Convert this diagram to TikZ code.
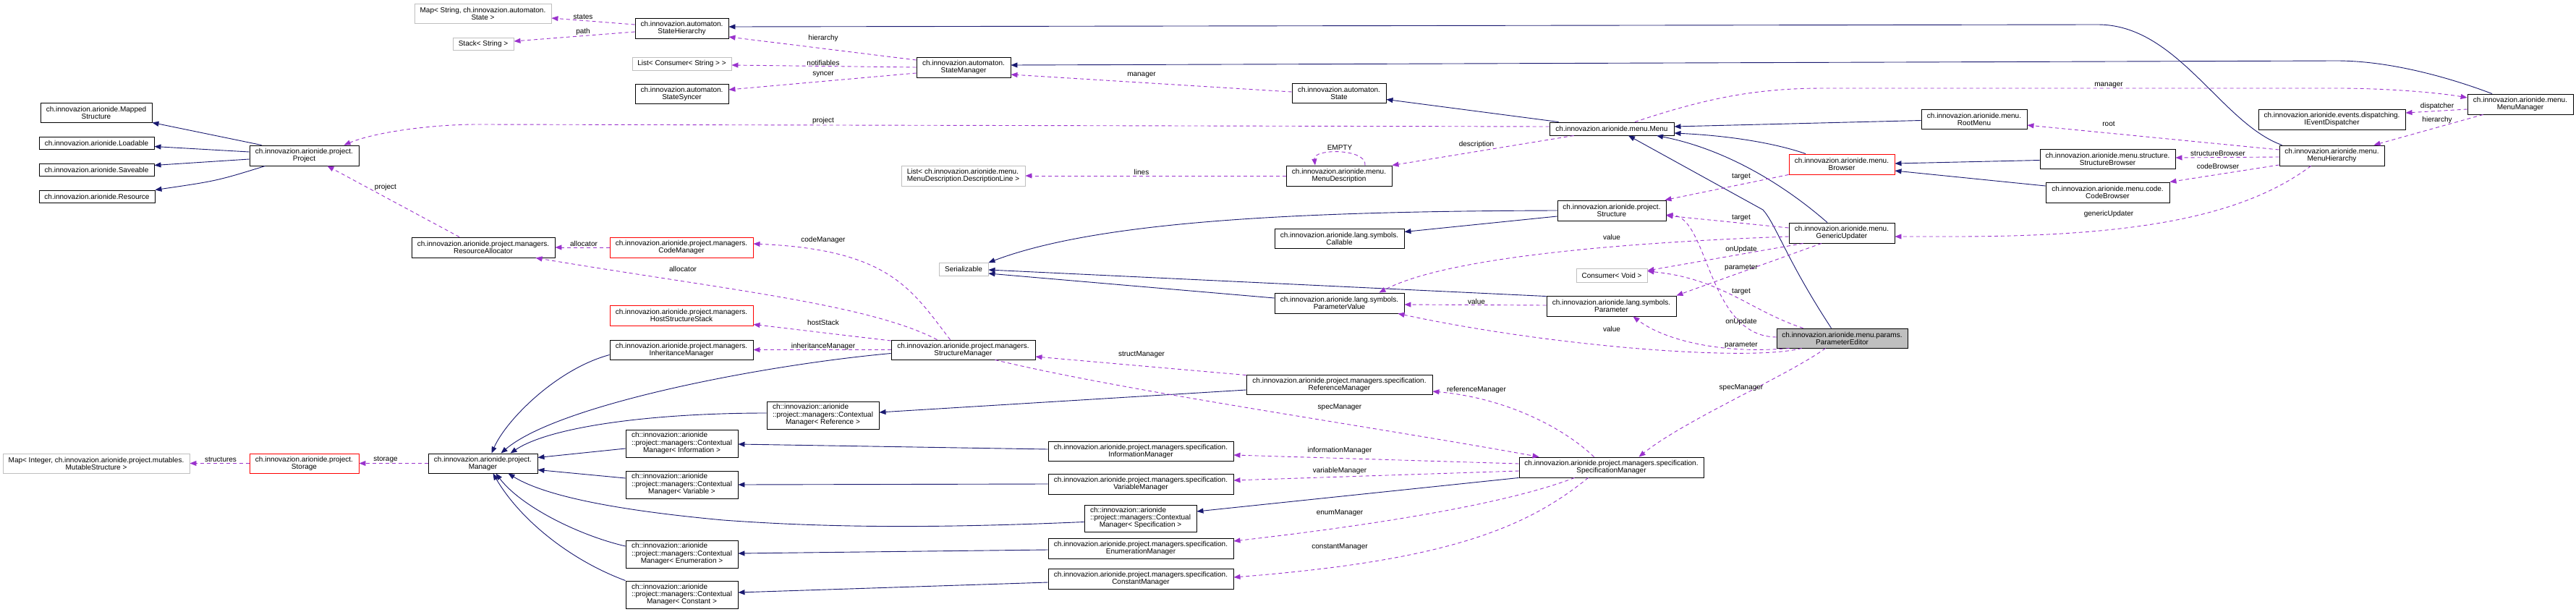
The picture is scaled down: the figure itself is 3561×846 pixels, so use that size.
\documentclass[tikz,border=0pt]{standalone}
\usepackage{fontspec}
\setmainfont{Liberation Sans}
\usetikzlibrary{arrows.meta}
\definecolor{edgeblue}{HTML}{191970}
\definecolor{edgepurple}{HTML}{9A32CD}
\definecolor{graybd}{HTML}{BFBFBF}
\newcommand\dxfont{\fontsize{10}{10}\selectfont}
\newcommand\cmtext[1]{\begin{tabular}{@{}l@{}}ch::innovazion::arionide\\::project::managers::Contextual\\\multicolumn{1}{@{}c@{}}{Manager< #1 >}\end{tabular}}
\begin{document}
\begin{tikzpicture}[x=1pt,y=-1pt,
  cls/.style={draw=black, fill=white, line width=0.9pt, inner sep=0pt, align=center, font=\dxfont},
  extb/.style={draw=graybd},
  redb/.style={draw=red},
  inh/.style={draw=edgeblue, line width=0.9pt, -{Triangle[length=9pt,width=7pt]}},
  dep/.style={draw=edgepurple, line width=0.9pt, dash pattern=on 5pt off 4pt, -{Triangle[length=9pt,width=7pt]}},
  lbl/.style={inner sep=0pt, font=\dxfont}]
\useasboundingbox[fill=white] (0,0) rectangle (3561,846);

% ---------- nodes ----------
\node[cls,extb,minimum width=189pt,minimum height=27pt] (mapstate) at (667.5,18.5) {Map< String, ch.innovazion.automaton.\\State >};
\node[cls,extb,minimum width=84pt,minimum height=17pt] (stack) at (668,60.5) {Stack< String >};
\node[cls,minimum width=129pt,minimum height=28pt] (statehier) at (942.5,39) {ch.innovazion.automaton.\\StateHierarchy};
\node[cls,extb,minimum width=137pt,minimum height=18pt] (listcons) at (942.5,88) {List< Consumer< String > >};
\node[cls,minimum width=129pt,minimum height=27pt] (statesync) at (942.5,129.5) {ch.innovazion.automaton.\\StateSyncer};
\node[cls,minimum width=154pt,minimum height=27pt] (mapped) at (133,155.5) {ch.innovazion.arionide.Mapped\\Structure};
\node[cls,minimum width=159pt,minimum height=17pt] (loadable) at (133.5,197.5) {ch.innovazion.arionide.Loadable};
\node[cls,minimum width=159pt,minimum height=17pt] (saveable) at (133.5,234.5) {ch.innovazion.arionide.Saveable};
\node[cls,minimum width=160pt,minimum height=17pt] (resource) at (134,271.5) {ch.innovazion.arionide.Resource};
\node[cls,minimum width=151pt,minimum height=28pt] (project) at (420.5,215) {ch.innovazion.arionide.project.\\Project};
\node[cls,minimum width=198pt,minimum height=28pt] (resalloc) at (668,342) {ch.innovazion.arionide.project.managers.\\ResourceAllocator};
\node[cls,redb,minimum width=198pt,minimum height=28pt] (codemgr) at (942,342) {ch.innovazion.arionide.project.managers.\\CodeManager};
\node[cls,redb,minimum width=198pt,minimum height=28pt] (hoststack) at (942,436) {ch.innovazion.arionide.project.managers.\\HostStructureStack};
\node[cls,minimum width=198pt,minimum height=27pt] (inhmgr) at (942,483.5) {ch.innovazion.arionide.project.managers.\\InheritanceManager};
\node[cls,extb,minimum width=258pt,minimum height=27pt] (mapint) at (133,640.5) {Map< Integer, ch.innovazion.arionide.project.mutables.\\MutableStructure >};
\node[cls,redb,minimum width=151pt,minimum height=27pt] (storage) at (420.5,640.5) {ch.innovazion.arionide.project.\\Storage};
\node[cls,minimum width=151pt,minimum height=27pt] (manager) at (667.5,640.5) {ch.innovazion.arionide.project.\\Manager};
\node[cls,minimum width=155pt,minimum height=38pt] (cminfo) at (942.5,613) {\cmtext{Information}};
\node[cls,minimum width=155pt,minimum height=38pt] (cmvar) at (942.5,670) {\cmtext{Variable}};
\node[cls,minimum width=155pt,minimum height=38pt] (cmenum) at (942.5,766) {\cmtext{Enumeration}};
\node[cls,minimum width=155pt,minimum height=38pt] (cmconst) at (942.5,822) {\cmtext{Constant}};
\node[cls,minimum width=155pt,minimum height=38pt] (cmref) at (1137.5,574) {\cmtext{Reference}};
\node[cls,minimum width=155pt,minimum height=37pt] (cmspec) at (1576.5,716.5) {\cmtext{Specification}};
\node[cls,minimum width=130pt,minimum height=28pt] (statemgr) at (1332,93) {ch.innovazion.automaton.\\StateManager};
\node[cls,minimum width=130pt,minimum height=27pt] (state) at (1851,128.5) {ch.innovazion.automaton.\\State};
\node[cls,extb,align=left,minimum width=171pt,minimum height=28pt] (mdlist) at (1331.5,243) {List< ch.innovazion.arionide.menu.\\MenuDescription.DescriptionLine >};
\node[cls,minimum width=146pt,minimum height=28pt] (menudesc) at (1851,243) {ch.innovazion.arionide.menu.\\MenuDescription};
\node[cls,minimum width=179pt,minimum height=27pt] (callable) at (1851.5,329.5) {ch.innovazion.arionide.lang.symbols.\\Callable};
\node[cls,extb,minimum width=68pt,minimum height=18pt] (serial) at (1332,372) {Serializable};
\node[cls,minimum width=179pt,minimum height=28pt] (paramvalue) at (1851.5,419) {ch.innovazion.arionide.lang.symbols.\\ParameterValue};
\node[cls,minimum width=179pt,minimum height=28pt] (parameter) at (2227.5,423) {ch.innovazion.arionide.lang.symbols.\\Parameter};
\node[cls,minimum width=150pt,minimum height=28pt] (structure) at (2228,291) {ch.innovazion.arionide.project.\\Structure};
\node[cls,extb,minimum width=98pt,minimum height=19pt] (consvoid) at (2228,380.5) {Consumer< Void >};
\node[cls,minimum width=199pt,minimum height=27pt] (structmgr) at (1331.5,483.5) {ch.innovazion.arionide.project.managers.\\StructureManager};
\node[cls,minimum width=257pt,minimum height=27pt] (refmgr) at (1851.5,531.5) {ch.innovazion.arionide.project.managers.specification.\\ReferenceManager};
\node[cls,minimum width=256pt,minimum height=27pt] (infomgr) at (1577,623.5) {ch.innovazion.arionide.project.managers.specification.\\InformationManager};
\node[cls,minimum width=256pt,minimum height=28pt] (varmgr) at (1577,669) {ch.innovazion.arionide.project.managers.specification.\\VariableManager};
\node[cls,minimum width=256pt,minimum height=28pt] (enummgr) at (1577,758) {ch.innovazion.arionide.project.managers.specification.\\EnumerationManager};
\node[cls,minimum width=256pt,minimum height=28pt] (constmgr) at (1577,800) {ch.innovazion.arionide.project.managers.specification.\\ConstantManager};
\node[cls,minimum width=172pt,minimum height=18pt] (menu) at (2228,178) {ch.innovazion.arionide.menu.Menu};
\node[cls,minimum width=146pt,minimum height=27pt] (rootmenu) at (2729,164.5) {ch.innovazion.arionide.menu.\\RootMenu};
\node[cls,redb,minimum width=146pt,minimum height=28pt] (browser) at (2546,227) {ch.innovazion.arionide.menu.\\Browser};
\node[cls,minimum width=146pt,minimum height=28pt] (genupd) at (2546,322) {ch.innovazion.arionide.menu.\\GenericUpdater};
\node[cls,fill=graybd,minimum width=181pt,minimum height=27pt] (parameditor) at (2546.5,467.5) {ch.innovazion.arionide.menu.params.\\ParameterEditor};
\node[cls,minimum width=255pt,minimum height=28pt] (specmgr) at (2227.5,646) {ch.innovazion.arionide.project.managers.specification.\\SpecificationManager};
\node[cls,minimum width=146pt,minimum height=28pt] (menumgr) at (3484,144) {ch.innovazion.arionide.menu.\\MenuManager};
\node[cls,minimum width=203pt,minimum height=28pt] (ievent) at (3223.5,165) {ch.innovazion.arionide.events.dispatching.\\IEventDispatcher};
\node[cls,minimum width=145pt,minimum height=28pt] (menuhier) at (3223.5,215) {ch.innovazion.arionide.menu.\\MenuHierarchy};
\node[cls,minimum width=187pt,minimum height=27pt] (structbrowser) at (2913.5,219.5) {ch.innovazion.arionide.menu.structure.\\StructureBrowser};
\node[cls,minimum width=171pt,minimum height=28pt] (codebrowser) at (2913.5,266) {ch.innovazion.arionide.menu.code.\\CodeBrowser};

% ---------- inheritance edges ----------
\draw[inh] ([shift={(17,0)}]project.north west) -- (mapped.south east);
\draw[inh] ([shift={(0,-5)}]project.west) -- ([shift={(0,5)}]loadable.east);
\draw[inh] ([shift={(0,5)}]project.west) -- ([shift={(0,-6)}]saveable.east);
\draw[inh] ([shift={(22,0)}]project.south west) .. controls (300,250) .. (resource.north east);
\draw[inh] ([shift={(4,0)}]menuhier.north west) .. controls (3070,170) and (3010,34) .. (2900,34) -- ([shift={(0,-2)}]statehier.east);
\draw[inh] ([shift={(-39,0)}]menumgr.north) .. controls (3380,105) and (3300,84) .. (3230,84) -- ([shift={(0,-3)}]statemgr.east);
\draw[inh] ([shift={(13,0)}]menu.north west) -- ([shift={(0,-5)}]state.south east);
\draw[inh] ([shift={(0,2)}]rootmenu.west) -- ([shift={(0,-3)}]menu.east);
\draw[inh] ([shift={(-50,0)}]browser.north) .. controls (2460,200) and (2400,188) .. ([shift={(0,6)}]menu.east);
\draw[inh] ([shift={(-20,0)}]genupd.north) .. controls (2460,250) and (2380,205) .. ([shift={(62,0)}]menu.south);
\draw[inh] ([shift={(-15,0)}]parameditor.north) .. controls (2470,360) and (2455,310) .. (2437,290) -- ([shift={(23,0)}]menu.south);
\draw[inh] ([shift={(0,2)}]structbrowser.west) -- ([shift={(0,-1)}]browser.east);
\draw[inh] ([shift={(0,-9)}]codebrowser.west) -- ([shift={(0,9)}]browser.east);
\draw[inh] ([shift={(0,8)}]structure.west) -- ([shift={(0,-9)}]callable.east);
\draw[inh] (structure.west) .. controls (1800,292) and (1520,305) .. ([shift={(0,-9)}]serial.east);
\draw[inh] ([shift={(0,1)}]parameter.north west) -- ([shift={(0,1)}]serial.east);
\draw[inh] ([shift={(0,-7)}]paramvalue.west) -- ([shift={(0,6)}]serial.east);
\draw[inh] ([shift={(0,5)}]structmgr.west) .. controls (1050,505) and (770,560) .. ([shift={(25,0)}]manager.north);
\draw[inh] ([shift={(0,7)}]inhmgr.west) .. controls (770,510) and (700,580) .. ([shift={(12,0)}]manager.north);
\draw[inh] ([shift={(0,-3)}]cmref.west) .. controls (900,571) and (760,590) .. ([shift={(38,0)}]manager.north);
\draw[inh] ([shift={(0,7)}]cminfo.west) -- ([shift={(0,-8)}]manager.east);
\draw[inh] ([shift={(0,-9)}]cmvar.west) -- ([shift={(0,9)}]manager.east);
\draw[inh] ([shift={(0,5)}]cmspec.west) .. controls (1300,730) and (1150,730) .. (1000,719) .. controls (880,708) and (760,690) .. ([shift={(35,0)}]manager.south);
\draw[inh] ([shift={(0,-11)}]cmenum.west) .. controls (800,740) and (720,700) .. ([shift={(18,0)}]manager.south);
\draw[inh] (cmconst.north west) .. controls (790,775) and (720,720) .. ([shift={(14,0)}]manager.south);
\draw[inh] ([shift={(0,7.5)}]refmgr.west) -- ([shift={(0,-4)}]cmref.east);
\draw[inh] ([shift={(0,-2.5)}]infomgr.west) -- ([shift={(0,1)}]cminfo.east);
\draw[inh] (varmgr.west) -- (cmvar.east);
\draw[inh] (specmgr.south west) -- ([shift={(0,-9.5)}]cmspec.east);
\draw[inh] ([shift={(0,2)}]enummgr.west) -- ([shift={(0,-1)}]cmenum.east);
\draw[inh] ([shift={(0,5)}]constmgr.west) -- ([shift={(0,-3)}]cmconst.east);

% ---------- usage edges ----------
\draw[dep] ([shift={(0,-5)}]statehier.west) -- ([shift={(0,6.5)}]mapstate.east);
\draw[dep] ([shift={(0,5)}]statehier.west) -- ([shift={(0,-3.5)}]stack.east);
\draw[dep] ([shift={(0,-10)}]statemgr.west) -- ([shift={(0,12)}]statehier.east);
\draw[dep] (statemgr.west) -- ([shift={(0,2)}]listcons.east);
\draw[dep] ([shift={(0,8)}]statemgr.west) -- ([shift={(0,-5.5)}]statesync.east);
\draw[dep] ([shift={(0,-1.5)}]state.west) -- ([shift={(0,10)}]statemgr.east);
\draw[dep] ([shift={(0,-3)}]menu.west) -- (660,172) .. controls (600,172) and (520,182) .. ([shift={(55,0)}]project.north);
\draw[dep] ([shift={(34,0)}]menu.south west) -- (menudesc.north east);
\draw[dep] (menudesc.west) -- (mdlist.east);
\draw[dep] ([shift={(36,0)}]menudesc.north) .. controls (1890,205) and (1815,205) .. ([shift={(-33,0)}]menudesc.north);
\draw[dep] ([shift={(32,0)}]menu.north) .. controls (2360,135) and (2430,122) .. (2520,122) -- (3230,122) .. controls (3300,122) and (3370,128) .. ([shift={(0,-9)}]menumgr.west);
\draw[dep] ([shift={(0,7)}]menumgr.west) -- ([shift={(0,-9)}]ievent.east);
\draw[dep] ([shift={(22,0)}]menumgr.south west) -- ([shift={(58,0)}]menuhier.north);
\draw[dep] ([shift={(0,-8)}]menuhier.west) -- ([shift={(0,8.5)}]rootmenu.east);
\draw[dep] ([shift={(0,2)}]menuhier.west) -- ([shift={(0,-1.5)}]structbrowser.east);
\draw[dep] ([shift={(0,13)}]menuhier.west) -- (codebrowser.north east);
\draw[dep] ([shift={(-29,0)}]menuhier.south) .. controls (3100,300) and (2950,327) .. (2700,327) -- ([shift={(0,5)}]genupd.east);
\draw[dep] (browser.south west) -- ([shift={(-2,0)}]structure.north east);
\draw[dep] ([shift={(0,-7)}]genupd.west) -- ([shift={(0,7)}]structure.east);
\draw[dep] ([shift={(0,5)}]genupd.west) .. controls (2250,335) and (2000,355) .. ([shift={(55,0)}]paramvalue.north);
\draw[dep] ([shift={(20,0)}]genupd.south west) -- ([shift={(0,-6.5)}]consvoid.east);
\draw[dep] ([shift={(-28,0)}]genupd.south) -- (parameter.north east);
\draw[dep] ([shift={(0,-1.5)}]parameditor.west) .. controls (2360,465) and (2362,300) .. ([shift={(0,6)}]structure.east);
\draw[dep] ([shift={(37,0)}]parameditor.north west) .. controls (2420,430) and (2380,385) .. ([shift={(0,-5.5)}]consvoid.east);
\draw[dep] ([shift={(18,0)}]parameditor.south west) .. controls (2380,490) and (2300,470) .. ([shift={(30,0)}]parameter.south);
\draw[dep] ([shift={(35,0)}]parameditor.south west) .. controls (2420,500) and (2150,480) .. ([shift={(-9,0)}]paramvalue.south east);
\draw[dep] ([shift={(0,-1)}]parameter.west) -- ([shift={(0,2)}]paramvalue.east);
\draw[dep] ([shift={(-23,0)}]parameditor.south) .. controls (2470,520) and (2330,580) .. ([shift={(38,0)}]specmgr.north);
\draw[dep] ([shift={(44,0)}]structmgr.south) .. controls (1550,540) and (1900,590) .. ([shift={(28,0)}]specmgr.north west);
\draw[dep] ([shift={(-24,0)}]specmgr.north) .. controls (2160,590) and (2080,550) .. ([shift={(0,9.5)}]refmgr.east);
\draw[dep] ([shift={(0,-5)}]specmgr.west) -- ([shift={(0,5.5)}]infomgr.east);
\draw[dep] ([shift={(0,5)}]specmgr.west) -- ([shift={(0,-5)}]varmgr.east);
\draw[dep] ([shift={(-51,0)}]specmgr.south) .. controls (2100,690) and (1950,720) .. ([shift={(0,-10)}]enummgr.east);
\draw[dep] ([shift={(-32,0)}]specmgr.south) .. controls (2110,730) and (2000,775) .. ([shift={(0,-2)}]constmgr.east);
\draw[dep] ([shift={(0,1)}]refmgr.north west) -- ([shift={(0,9.5)}]structmgr.east);
\draw[dep] ([shift={(0,-12.5)}]structmgr.west) -- ([shift={(0,-2)}]hoststack.south east);
\draw[dep] (structmgr.west) -- (inhmgr.east);
\draw[dep] ([shift={(-18,0)}]structmgr.north) .. controls (1260,400) and (1230,345) .. ([shift={(0,-5)}]codemgr.east);
\draw[dep] ([shift={(-36,0)}]structmgr.north) .. controls (1200,420) and (1000,400) .. ([shift={(-27,0)}]resalloc.south east);
\draw[dep] (codemgr.west) -- (resalloc.east);
\draw[dep] ([shift={(-33,0)}]resalloc.north) -- ([shift={(32,0)}]project.south);
\draw[dep] (storage.west) -- (mapint.east);
\draw[dep] (manager.west) -- (storage.east);

% ---------- labels ----------
\node[lbl] (l01) at (806,23) {states};
\node[lbl] (l02) at (806,44) {path};
\node[lbl] (l03) at (1138,53) {hierarchy};
\node[lbl] (l04) at (1138,87) {notifiables};
\node[lbl] (l05) at (1138,103) {syncer};
\node[lbl] (l06) at (1578,104) {manager};
\node[lbl] (l07) at (1138,167) {project};
\node[lbl] (l08) at (533,259) {project};
\node[lbl] (l09) at (807,337) {allocator};
\node[lbl] (l10) at (944,372) {allocator};
\node[lbl] (l11) at (1138,332) {codeManager};
\node[lbl] (l12) at (1138,446) {hostStack};
\node[lbl] (l13) at (1138,479) {inheritanceManager};
\node[lbl] (l14) at (305,635) {structures};
\node[lbl] (l15) at (533,635) {storage};
\node[lbl] (l16) at (1578,490) {structManager};
\node[lbl] (l17) at (1852,563) {specManager};
\node[lbl] (l18) at (1852,623) {informationManager};
\node[lbl] (l19) at (1852,651) {variableManager};
\node[lbl] (l20) at (1852,709) {enumManager};
\node[lbl] (l21) at (1852,756) {constantManager};
\node[lbl] (l22) at (2041,539) {referenceManager};
\node[lbl] (l23) at (2407,536) {specManager};
\node[lbl] (l24) at (2041,200) {description};
\node[lbl] (l25) at (1578,238) {lines};
\node[lbl] (l26) at (1852,204) {EMPTY};
\node[lbl] (l27) at (2407,244) {target};
\node[lbl] (l28) at (2407,301) {target};
\node[lbl] (l29) at (2228,328) {value};
\node[lbl] (l30) at (2407,345) {onUpdate};
\node[lbl] (l31) at (2407,370) {parameter};
\node[lbl] (l32) at (2407,403) {target};
\node[lbl] (l33) at (2041,417) {value};
\node[lbl] (l34) at (2407,445) {onUpdate};
\node[lbl] (l35) at (2228,455) {value};
\node[lbl] (l36) at (2407,477) {parameter};
\node[lbl] (l37) at (2915,118) {manager};
\node[lbl] (l38) at (3369,147) {dispatcher};
\node[lbl] (l39) at (3369,166) {hierarchy};
\node[lbl] (l40) at (2915,171) {root};
\node[lbl] (l41) at (3066,212) {structureBrowser};
\node[lbl] (l42) at (3066,230) {codeBrowser};
\node[lbl] (l43) at (2915,296) {genericUpdater};
\end{tikzpicture}
\end{document}
